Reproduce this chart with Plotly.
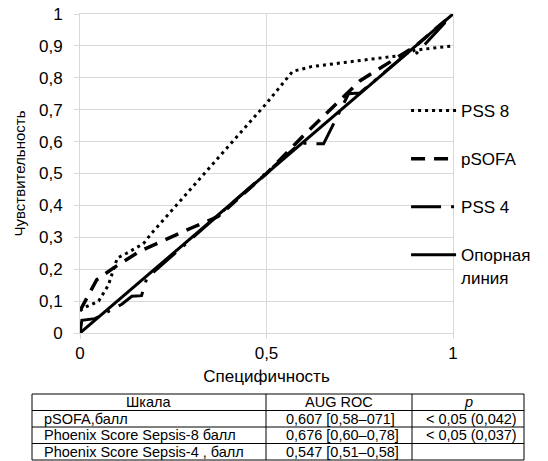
import plotly.graph_objects as go

# ---- data ----
pss8_x = [0.0, 0.013, 0.05, 0.076, 0.1, 0.125, 0.17, 0.19, 0.5, 0.57, 0.62, 0.86, 0.9, 1.0]
pss8_y = [0.07, 0.08, 0.1, 0.15, 0.235, 0.25, 0.28, 0.31, 0.72, 0.82, 0.835, 0.87, 0.887, 0.9]

psofa_x = [0.0, 0.045, 0.09, 0.16, 0.3, 0.37, 0.5, 0.6, 0.75, 0.9, 1.0]
psofa_y = [0.07, 0.167, 0.204, 0.256, 0.33, 0.365, 0.5, 0.62, 0.79, 0.9, 1.0]

pss4_x = [0.0, 0.005, 0.04, 0.112, 0.139, 0.165, 0.179, 0.59, 0.653, 0.72, 0.75, 0.875, 0.895, 1.0]
pss4_y = [0.0, 0.04, 0.045, 0.09, 0.115, 0.117, 0.172, 0.595, 0.593, 0.75, 0.752, 0.875, 0.868, 1.0]

ref_x = [0.0, 1.0]
ref_y = [0.0, 1.0]

table_header = ["Шкала", "AUG ROC", "<i>p</i>"]
table_scale = ["pSOFA,балл", "Phoenix Score Sepsis-8 балл", "Phoenix Score Sepsis-4 , балл"]
table_auc = ["0,607 [0,58–071]", "0,676 [0,60–0,78]", "0,547 [0,51–0,58]"]
table_p = ["< 0,05 (0,042)", "< 0,05 (0,037)", ""]

x_ticks = [0, 0.5, 1]
y_ticks = [0, 0.1, 0.2, 0.3, 0.4, 0.5, 0.6, 0.7, 0.8, 0.9, 1.0]

FONT = "Liberation Sans, Arial, sans-serif"
W, H = 548, 461


def px(x):
    return x / W


def py(y):
    return 1 - y / H


fig = go.Figure()
fig.add_trace(go.Scatter(x=pss8_x, y=pss8_y, mode="lines", name="PSS 8", legendgroup="a",
                         line=dict(color="black", width=3, dash="3px,4px")))
fig.add_trace(go.Scatter(x=psofa_x, y=psofa_y, mode="lines", name="pSOFA", legendgroup="b",
                         line=dict(color="black", width=3.5, dash="14px,9px")))
fig.add_trace(go.Scatter(x=pss4_x, y=pss4_y, mode="lines", name="PSS 4", legendgroup="c",
                         line=dict(color="black", width=3, dash="30px,10px,3px,10px")))
fig.add_trace(go.Scatter(x=ref_x, y=ref_y, mode="lines", name="Опорная<br>линия", legendgroup="d",
                         line=dict(color="black", width=3)))

# ---- table under the chart (borders + texts) ----
col_edges = [32, 266, 412, 524]
row_edges = [394, 410.5, 427, 443.5, 460]
col_pad = [10, 18, 12]
shapes = []
shapes.append(dict(type="rect", xref="paper", yref="paper",
                   x0=px(col_edges[0]), x1=px(col_edges[-1]),
                   y0=py(row_edges[0]), y1=py(row_edges[-1]),
                   line=dict(color="black", width=1)))
for cx in col_edges[1:-1]:
    shapes.append(dict(type="line", xref="paper", yref="paper",
                       x0=px(cx), x1=px(cx), y0=py(row_edges[0]), y1=py(row_edges[-1]),
                       line=dict(color="black", width=1)))
for ry in row_edges[1:-1]:
    shapes.append(dict(type="line", xref="paper", yref="paper",
                       x0=px(col_edges[0]), x1=px(col_edges[-1]), y0=py(ry), y1=py(ry),
                       line=dict(color="black", width=1)))

annotations = []
tfont = dict(family=FONT, size=14.5, color="black")
for c, txt in enumerate(table_header):
    annotations.append(dict(text=txt, xref="paper", yref="paper", showarrow=False,
                            x=px((col_edges[c] + col_edges[c + 1]) / 2),
                            y=py((row_edges[0] + row_edges[1]) / 2),
                            xanchor="center", yanchor="middle", font=tfont))
columns = [table_scale, table_auc, table_p]
for c, col in enumerate(columns):
    for r, txt in enumerate(col):
        if not txt:
            continue
        annotations.append(dict(text=txt, xref="paper", yref="paper", showarrow=False,
                                x=px(col_edges[c] + col_pad[c]),
                                y=py((row_edges[r + 1] + row_edges[r + 2]) / 2),
                                xanchor="left", yanchor="middle", font=tfont))

grid = "#d9d9d9"
fig.update_layout(
    width=W, height=H,
    margin=dict(l=0, r=0, t=0, b=0),
    template="none",
    paper_bgcolor="white", plot_bgcolor="white",
    separators=", ",
    font=dict(family=FONT, size=17, color="black"),
    showlegend=True,
    shapes=shapes,
    annotations=annotations,
    legend=dict(x=0.741, y=py(93), xanchor="left", yanchor="top",
                bgcolor="rgba(0,0,0,0)", borderwidth=0, itemwidth=45,
                font=dict(family=FONT, size=17, color="black"),
                tracegroupgap=23, valign="top", traceorder="grouped"),
    xaxis=dict(domain=[80 / W, 453 / W], range=[0, 1], tickvals=x_ticks,
               showgrid=True, gridcolor=grid, gridwidth=1,
               showline=True, linecolor=grid, linewidth=1, mirror=True,
               zeroline=False, ticks="outside", ticklen=5, tickcolor=grid,
               ticklabelstandoff=0, automargin=False,
               tickfont=dict(family=FONT, size=17, color="black"),
               title=dict(text="Специфичность", standoff=7,
                          font=dict(family=FONT, size=17, color="black"))),
    yaxis=dict(domain=[(H - 333) / H, (H - 14) / H], range=[0, 1], tickvals=y_ticks,
               showgrid=True, gridcolor=grid, gridwidth=1,
               showline=True, linecolor=grid, linewidth=1, mirror=True,
               zeroline=False, ticks="outside", ticklen=5, tickcolor=grid,
               ticklabelstandoff=8, automargin=False,
               tickfont=dict(family=FONT, size=17, color="black"),
               title=dict(text="Чувствительность", standoff=9,
                          font=dict(family=FONT, size=15, color="black"))),
)

fig.write_html("out.html", config={"displayModeBar": False},
               post_script="document.body.style.margin='0';")
